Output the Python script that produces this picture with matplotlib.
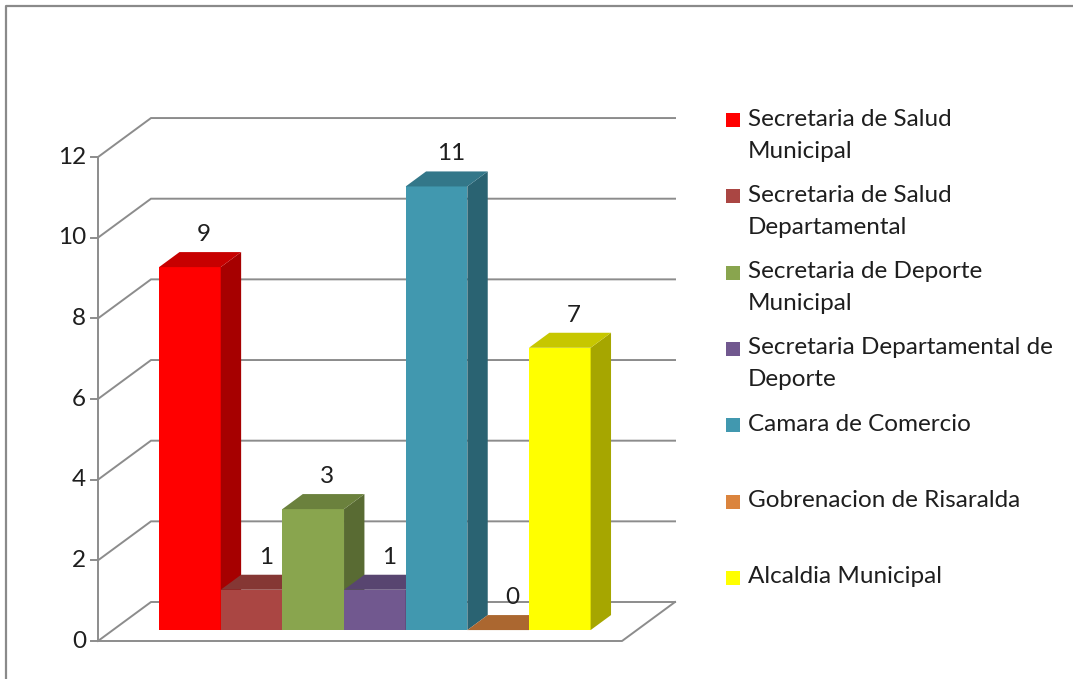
import matplotlib
matplotlib.use("Agg")
import matplotlib.pyplot as plt
from matplotlib.patches import Polygon, Rectangle
from matplotlib.lines import Line2D
import matplotlib.colors as mcolors

# ---------------- data ----------------
series_labels = [
    "Secretaria de Salud\nMunicipal",
    "Secretaria de Salud\nDepartamental",
    "Secretaria de Deporte\nMunicipal",
    "Secretaria Departamental de\nDeporte",
    "Camara de Comercio",
    "Gobrenacion de Risaralda",
    "Alcaldia Municipal",
]
values = [9, 1, 3, 1, 11, 0, 7]
colors = ["#FF0000", "#AA4643", "#89A54E", "#71588F", "#4198AF", "#DB843D", "#FFFF00"]
y_ticks = [0, 2, 4, 6, 8, 10, 12]

# ---------------- style / layout ----------------
plt.rcParams['font.family'] = ['Lato', 'DejaVu Sans']
W, H, DPI = 1073, 679, 100
FS = 17.5
TXT = "#1e1e1e"
GRID = "#8C8C8C"

fig = plt.figure(figsize=(W / DPI, H / DPI), dpi=DPI)
ax = fig.add_axes([0, 0, 1, 1])
ax.axis('off')

# pixel scale of data units
SX, SY = 61.65, 40.33          # px per category unit / per value unit
X0, Y0 = 98, 641               # pixel of front-plane origin
ax.set_xlim(-X0 / SX, (W - X0) / SX)
ax.set_ylim(-(H - Y0) / SY, Y0 / SY)

# depth projection (one unit of depth)
DX, DY = 53 / SX, 39 / SY
def proj(x, y, z):
    return (x + z * DX, y + z * DY)

n = len(values)
gap = 1.5
x_end = n + gap
margin = gap / 2
ZF, ZB = 0.28, 0.665
ymax = max(y_ticks)

# back wall and side wall gridlines
for v in y_ticks:
    pts = [proj(0, v, 0), proj(0, v, 1), proj(x_end, v, 1)]
    ax.plot([p[0] for p in pts], [p[1] for p in pts], color=GRID, lw=1.4,
            solid_joinstyle='miter', zorder=1)
# floor
pts = [proj(0, 0, 0), proj(x_end, 0, 0), proj(x_end, 0, 1)]
ax.plot([p[0] for p in pts], [p[1] for p in pts], color=GRID, lw=1.4, zorder=1)
# vertical axis
ax.plot([0, 0], [0, ymax], color=GRID, lw=1.4, zorder=1)
tick_len = 7 / SX
for v in y_ticks:
    ax.plot([-tick_len, 0], [v, v], color=GRID, lw=1.4, zorder=1)
    ax.text(-12 / SX, v, str(v), ha='right', va='center', fontsize=FS, color=TXT)

# bars
def shade(c, f):
    r, g, b = mcolors.to_rgb(c)
    return (r * f, g * f, b * f)

for i, (v, c) in enumerate(zip(values, colors)):
    x0 = margin + i
    x1 = x0 + 1
    front = [proj(x0, 0, ZF), proj(x1, 0, ZF), proj(x1, v, ZF), proj(x0, v, ZF)]
    top = [proj(x0, v, ZF), proj(x1, v, ZF), proj(x1, v, ZB), proj(x0, v, ZB)]
    side = [proj(x1, 0, ZF), proj(x1, 0, ZB), proj(x1, v, ZB), proj(x1, v, ZF)]
    z = 3 + i
    if v > 0:
        ax.add_patch(Polygon(front, closed=True, fc=c, ec='none', zorder=z))
        ax.add_patch(Polygon(side, closed=True, fc=shade(c, 0.65), ec='none', zorder=z))
    ax.add_patch(Polygon(top, closed=True, fc=shade(c, 0.78), ec='none', zorder=z))
    lx, ly = proj(x0 + 0.5, v, (ZF + ZB) / 2)
    ax.text(lx + 4 / SX, ly + 0.62, str(v), ha='center', va='center', fontsize=FS,
            color=TXT, zorder=20)

# legend (manual, Excel-like spacing)
leg_x_sq, sq = 726, 14
leg_x_txt = 748
leg_y0, leg_step, line_step = 120, 76.3, 32
for i, (lab, c) in enumerate(zip(series_labels, colors)):
    cy = leg_y0 + leg_step * i
    fig.add_artist(Rectangle((leg_x_sq / W, 1 - (cy + sq / 2) / H), sq / W, sq / H,
                             transform=fig.transFigure, fc=c, ec='none'))
    for j, line in enumerate(lab.split("\n")):
        fig.text(leg_x_txt / W, 1 - (cy - 1 + j * line_step) / H, line,
                 ha='left', va='center', fontsize=FS, color=TXT)

# outer border (partially visible)
fig.add_artist(Line2D([6 / W, 6 / W, 1.0], [0.0, 1 - 6 / H, 1 - 6 / H],
                      transform=fig.transFigure, color="#8A8A8A", lw=1.6))

fig.savefig("out.png", dpi=DPI)
